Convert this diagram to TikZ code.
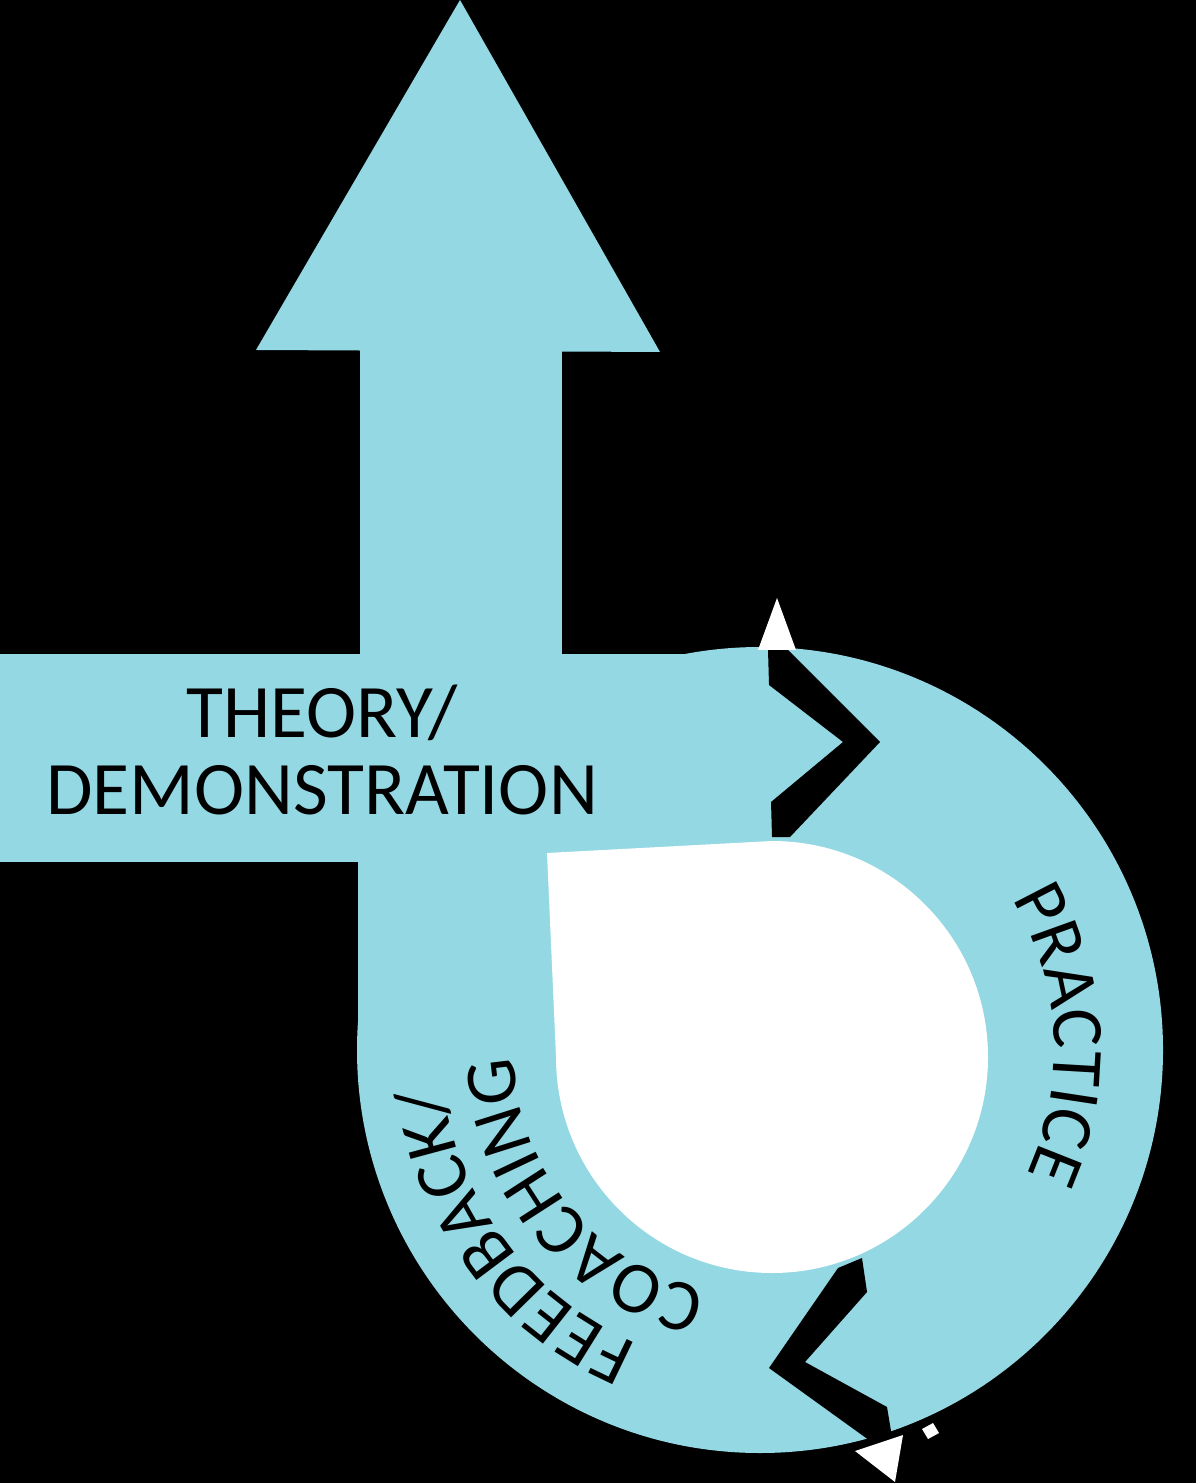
\documentclass[tikz,border=0pt]{standalone}
\usepackage{fontspec}
\setmainfont{Carlito}
\usetikzlibrary{decorations.text}
\definecolor{ringblue}{RGB}{148,216,227}

\begin{document}
\begin{tikzpicture}[x=0.01cm, y=0.01cm,
  band/.style   ={fill=ringblue},
  chevron/.style={fill=black},
  spark/.style  ={fill=white},
  headtext/.style={font=\fontsize{21.5}{21.9}\selectfont, align=center, inner sep=0pt},
  arclabel/.style={decorate, decoration={text along path, text align=center,
                  text={|\fontsize{20.8}{24}\selectfont|#1}}}]

\fill[black] (0,0) rectangle (1196,-1483);

\fill[band] (460,0) -- (660,-352) -- (256,-350) -- cycle;
\fill[band] (360,-345) rectangle (562,-660);
\fill[band] (0,-654) rectangle (790,-862);
\fill[band] (358,-850) rectangle (560,-1060);
\coordinate (hub) at (760,-1050);
\fill[band] (hub) circle[radius=403];

\fill[spark] (547,-853) -- (772,-841) arc[start angle=90, end angle=-180, radius=216] -- cycle;

\fill[chevron] (768,-650) -- (788,-650) -- (880,-742) -- (790,-837) -- (772,-837) -- (771,-802) -- (843,-742) -- (769,-685) -- cycle;
\fill[chevron] (838,-1268) -- (862,-1258) -- (867,-1292) -- (805,-1362) -- (887,-1407) -- (892,-1437) -- (873,-1443) -- (769,-1368) -- cycle;

\fill[spark] (777,-598) -- (796,-650) -- (758,-650) -- cycle;
\fill[spark] (855,-1451) -- (903,-1435) -- (895,-1482) -- cycle;
\fill[spark] (922,-1429) -- (933,-1423) -- (939,-1433) -- (928,-1439) -- cycle;

\node[headtext] (theory) at (322,-750) {THEORY/\\DEMONSTRATION};

\path[arclabel=PRACTICE] (hub) ++(62:294) arc[start angle=62, end angle=-56, radius=294];
\path[arclabel={FEEDBACK/}] (hub) ++(277:318) arc[start angle=277, end angle=157, radius=318];
\path[arclabel=COACHING] (hub) ++(279.4:246) arc[start angle=279.4, end angle=159.4, radius=246];
\end{tikzpicture}
\end{document}
